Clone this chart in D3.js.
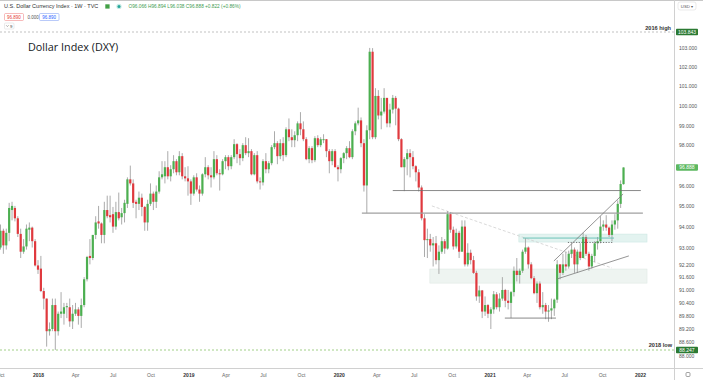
<!DOCTYPE html>
<html><head><meta charset="utf-8">
<script src="https://cdn.jsdelivr.net/npm/d3@7"></script>
<style>html,body{margin:0;padding:0;background:#fff;} svg{display:block;}</style>
</head><body>
<svg id="chart" width="703" height="380"></svg>
<script>
// ---------------- DATA ----------------
const firstWeek = "2017-10-02"; // weekly candles, Monday starts
const opens = [
 93.0,93.8,93.1,93.7,94.8,94.9,94.4,93.65,92.8,93.05,93.85,93.95,93.3,
 92.15,92.0,90.95,90.6,89.1,89.2,90.3,89.1,89.9,89.9,90.2,90.2,89.55,89.9,90.1,89.8,90.3,91.5,92.6,92.5,93.6,94.25,94.15,93.6,94.8,94.55,94.6,94.0,94.7,94.45,94.65,95.1,96.3,96.1,95.2,95.1,95.4,94.95,94.2,95.1,95.6,95.2,95.7,96.4,96.45,96.9,96.45,96.8,97.2,96.65,97.45,96.45,96.35,
 96.2,95.6,96.4,95.8,95.6,96.55,96.9,96.5,96.4,97.3,96.6,96.55,97.2,97.4,96.95,97.4,98.05,97.55,97.35,98.0,97.6,97.7,96.55,97.5,96.2,96.15,97.2,96.8,97.1,97.9,98.1,97.45,98.1,97.5,98.8,98.4,98.25,98.5,99.1,98.8,98.3,97.3,97.85,97.25,98.35,98.0,98.25,98.3,97.7,97.2,97.7,96.9,
 96.8,97.35,97.6,97.85,97.4,98.7,99.1,99.25,98.1,96.0,98.75,102.8,98.4,100.5,99.5,99.7,100.4,99.1,99.8,100.4,99.85,98.3,96.9,97.3,97.6,97.4,96.95,96.65,95.9,94.4,93.35,93.4,93.1,93.2,92.4,92.8,93.3,92.95,94.6,93.85,93.05,93.7,92.8,94.0,92.2,92.75,92.4,91.8,90.7,90.98,90.0,90.3,
 89.9,90.1,90.8,90.2,90.6,91.0,90.5,90.4,90.9,91.9,91.7,91.9,92.8,93.0,92.2,91.55,90.85,91.3,90.2,90.3,90.0,90.05,90.15,90.55,92.2,91.8,92.2,92.1,92.7,92.9,92.2,92.8,92.5,93.5,92.7,92.1,92.6,93.2,93.3,94.0,94.1,93.95,93.6,94.1,94.3,95.1,96.066
];
const highs = [
 94.1,93.9,93.9,95.15,95.2,95.0,94.5,93.9,93.4,94.1,94.2,94.0,93.4,
 92.4,92.6,91.1,90.6,89.5,90.6,90.6,90.0,90.9,90.4,90.4,90.6,90.3,90.4,90.2,90.6,91.6,92.6,93.4,93.6,94.5,95.0,94.2,95.2,95.5,95.5,94.95,95.2,95.65,94.9,95.3,96.4,96.98,96.3,95.3,95.7,95.6,95.0,95.3,96.1,95.7,96.0,96.7,97.2,97.2,97.7,97.0,97.5,97.3,97.7,97.6,96.9,96.95,
 96.3,96.5,96.6,96.0,96.6,97.4,97.0,96.9,97.7,97.5,96.8,97.3,97.5,97.5,97.5,98.3,98.1,97.8,98.1,98.4,98.35,97.8,97.6,97.7,96.4,97.3,97.6,97.2,98.0,98.7,98.2,98.3,98.4,98.9,99.35,98.8,98.7,99.2,99.67,99.2,98.4,97.95,97.95,98.45,98.5,98.4,98.55,98.3,97.8,97.8,97.8,97.0,
 97.4,97.65,97.95,98.2,98.8,99.2,99.9,99.4,98.3,99.0,103.0,102.99,100.9,100.8,100.4,100.9,100.4,100.1,100.55,100.5,99.9,98.35,97.4,97.8,97.8,97.7,97.0,96.8,96.0,94.6,93.9,93.65,93.5,93.55,93.1,93.5,93.4,94.75,94.7,94.0,93.9,93.8,94.3,94.3,93.2,92.9,92.6,91.9,91.2,91.0,90.7,90.35,
 90.2,90.95,90.9,90.85,91.6,91.05,91.0,90.95,92.1,92.5,92.0,92.9,93.44,93.05,92.3,91.65,91.4,91.4,90.9,90.4,90.3,90.6,90.6,92.4,92.2,92.7,92.8,92.85,93.2,93.0,92.9,93.2,93.7,93.6,92.8,92.7,93.3,93.5,94.5,94.3,94.55,94.0,94.3,94.6,95.27,96.25,96.894
];
const lows = [
 92.9,92.7,92.9,93.3,94.3,94.25,93.5,92.5,92.7,92.9,93.3,93.0,92.1,
 91.75,90.9,90.1,88.4,88.9,89.1,88.25,88.9,89.7,89.4,89.7,89.3,89.2,89.8,89.4,89.25,90.2,91.4,92.2,92.4,93.4,93.9,93.2,93.2,94.4,94.2,93.7,93.85,94.3,94.1,94.2,94.9,96.0,94.9,94.4,94.8,94.5,93.8,93.8,95.0,94.8,94.9,95.6,96.3,96.1,96.3,96.2,96.6,96.5,96.5,96.3,96.2,95.5,
 95.05,95.5,95.7,95.2,95.5,96.4,96.3,95.9,96.3,96.5,95.75,96.5,96.8,96.75,96.8,97.3,97.1,97.0,97.2,97.5,97.4,96.5,96.5,96.1,95.8,96.0,96.6,96.6,97.0,97.8,97.05,97.3,97.2,97.4,98.2,97.9,97.9,98.2,98.5,98.2,97.25,97.1,97.1,97.15,97.9,97.9,98.1,97.4,96.6,97.0,96.9,96.2,
 96.6,97.1,97.3,97.35,97.3,98.5,99.0,97.9,95.7,94.65,98.3,98.3,98.3,99.3,98.8,99.6,98.9,98.9,99.6,99.0,98.2,96.9,95.72,96.5,96.4,96.8,96.2,95.7,94.3,92.55,92.5,92.8,92.1,92.2,91.75,92.7,92.7,92.9,93.7,92.9,92.95,92.5,92.8,92.1,92.1,92.2,91.75,90.5,90.4,89.7,89.8,89.7,
 89.2,89.9,90.1,90.0,90.5,90.2,90.1,89.7,90.7,91.4,91.3,91.8,92.7,92.0,91.5,90.8,90.4,90.1,89.9,89.65,89.53,89.65,89.8,90.4,91.5,91.7,91.9,92.0,92.5,91.8,91.8,92.4,92.5,92.6,91.9,92.0,92.3,92.9,93.2,93.8,93.8,93.5,93.3,93.85,93.9,94.9,96.038
];
const closes = [
 93.8,93.1,93.7,94.9,95.0,94.4,93.65,92.8,93.05,93.9,93.95,93.3,92.15,
 91.95,90.95,90.6,89.1,89.2,90.3,89.1,89.9,90.0,90.2,90.25,89.55,89.9,90.1,89.8,90.3,91.5,92.55,92.5,93.6,94.2,94.15,93.6,94.8,94.5,94.45,94.0,94.7,94.4,94.65,95.15,96.3,96.1,95.15,95.1,95.4,94.95,94.2,95.1,95.6,95.2,95.7,96.4,96.55,96.9,96.45,96.8,97.2,96.65,97.45,96.45,96.35,96.2,
 95.6,96.4,95.8,95.6,96.55,96.9,96.5,96.4,97.3,96.6,96.55,97.2,97.4,96.95,97.4,98.05,97.55,97.35,98.0,97.6,97.7,96.55,97.5,96.2,96.15,97.2,96.8,97.1,97.9,98.1,97.45,98.1,97.5,98.8,98.4,98.25,98.5,99.1,98.8,98.3,97.3,97.85,97.25,98.35,98.0,98.3,98.3,97.7,97.2,97.7,96.9,96.8,
 97.35,97.6,97.85,97.4,98.7,99.1,99.25,98.1,96.0,98.75,102.8,98.4,100.5,99.5,99.7,100.4,99.1,99.8,100.4,99.85,98.3,96.9,97.3,97.6,97.4,96.95,96.65,95.9,94.4,93.35,93.4,93.1,93.2,92.4,92.8,93.3,92.95,94.6,93.85,93.05,93.7,92.8,94.0,92.2,92.75,92.4,91.8,90.7,90.98,90.0,90.3,89.9,
 90.1,90.8,90.2,90.6,91.0,90.5,90.4,90.9,91.9,91.7,91.9,92.8,93.0,92.2,91.55,90.85,91.3,90.2,90.3,90.0,90.05,90.15,90.55,92.2,91.8,92.2,92.1,92.7,92.9,92.2,92.8,92.5,93.5,92.7,92.1,92.6,93.2,93.3,94.0,94.1,93.95,93.6,94.1,94.3,95.1,96.07,96.888
];

// visible price-scale labels (97.000 and 104.000 sit under the price tags)
const priceTicks = [103,102,101,100,99,98,96,95,94,93,92.2,91.6,91.0,90.4,89.8,89.2,88.6,88.0];
const timeTickDates = ["2017-10-01","2018-01-01","2018-04-01","2018-07-01","2018-10-01","2019-01-01","2019-04-01","2019-07-01","2019-10-01","2020-01-01","2020-04-01","2020-07-01","2020-10-01","2021-01-01","2021-04-01","2021-07-01","2021-10-01","2022-01-01"];
const timeTickLabels = ["Oct","2018","Apr","Jul","Oct","2019","Apr","Jul","Oct","2020","Apr","Jul","Oct","2021","Apr","Jul","Oct","2022"];

const high2016 = 103.843, low2018 = 88.247, lastPrice = 96.888;
const headerOHLC = "O96.066 H96.894 L96.038 C96.888 +0.822 (+0.86%)";

// drawn annotations (dates / prices)
const levelLines = [
  {price: 95.75, from: "2020-05-11", to: "2022-01-03"},
  {price: 94.65, from: "2020-02-26", to: "2022-01-08"},
  {price: 89.70, from: "2021-02-07", to: "2021-06-11"}
];
const zones = [
  {lo: 93.26, hi: 93.64, from: "2021-03-13", to: "2022-01-18"},
  {lo: 91.32, hi: 91.98, from: "2020-08-09", to: "2022-01-18"}
];
const tealLevel = {price: 93.45, from: "2021-03-23", to: "2021-10-30"};
const dottedLevel = {price: 93.24, from: "2021-07-10", to: "2021-10-27"};
const trendLines = [
  {d1: "2021-06-06", p1: 92.36, d2: "2021-11-21", p2: 95.58},
  {d1: "2021-06-13", p1: 91.51, d2: "2021-12-05", p2: 92.60}
];
const fallingLine = {d1: "2020-08-14", p1: 95.0, d2: "2021-10-25", p2: 92.03};

// ---------------- CHART ----------------
const svg = d3.select("#chart");
const W = 703, H = 380;
const plotRight = 674.5, plotBottom = 368.5;
const pd = s => new Date(s + "T00:00:00Z");
const hf = "Liberation Sans, Arial, sans-serif";

const x = d3.scaleUtc().domain([pd("2018-01-01"), pd("2022-01-01")]).range([38, 640]);
const y = d3.scaleLog().domain([low2018, high2016]).range([350, 32]);

const start = pd(firstWeek);
const candles = closes.map((c, i) => ({d: d3.utcDay.offset(start, 7 * i), o: opens[i], h: highs[i], l: lows[i], c}));

svg.append("rect").attr("width", W).attr("height", H).attr("fill", "#fff");
svg.append("defs").append("clipPath").attr("id", "plot")
  .append("rect").attr("x", 0).attr("y", 0).attr("width", plotRight).attr("height", plotBottom);

const plot = svg.append("g").attr("clip-path", "url(#plot)");

// zones
plot.selectAll("rect.zone").data(zones).join("rect").attr("class", "zone")
  .attr("x", d => x(pd(d.from))).attr("width", d => x(pd(d.to)) - x(pd(d.from)))
  .attr("y", d => y(d.hi)).attr("height", d => y(d.lo) - y(d.hi))
  .attr("fill", (d, i) => i === 0 ? "#e3f3f0" : "#eef4f1")
  .attr("stroke", (d, i) => i === 0 ? "#cde8e3" : "#dfe9e4").attr("stroke-width", 0.6);

// reference dashed lines
plot.append("line").attr("x1", 0).attr("x2", plotRight).attr("y1", y(high2016)).attr("y2", y(high2016))
  .attr("stroke", "#a8a8a8").attr("stroke-width", 0.7).attr("stroke-dasharray", "2,2");
plot.append("line").attr("x1", 0).attr("x2", plotRight).attr("y1", y(low2018)).attr("y2", y(low2018))
  .attr("stroke", "#8cc36a").attr("stroke-width", 0.8).attr("stroke-dasharray", "2,2");

// falling dashed trendline
plot.append("line")
  .attr("x1", x(pd(fallingLine.d1))).attr("y1", y(fallingLine.p1))
  .attr("x2", x(pd(fallingLine.d2))).attr("y2", y(fallingLine.p2))
  .attr("stroke", "#cfcfcf").attr("stroke-width", 0.8).attr("stroke-dasharray", "3,2");

// candles
const cg = plot.append("g");
cg.selectAll("line.wick").data(candles).join("line").attr("class", "wick")
  .attr("x1", d => x(d.d)).attr("x2", d => x(d.d))
  .attr("y1", d => y(d.h)).attr("y2", d => y(d.l))
  .attr("stroke", "#a2a2a2").attr("stroke-width", 0.9);
cg.selectAll("rect.body").data(candles).join("rect").attr("class", "body")
  .attr("x", d => x(d.d) - 1.1).attr("width", 2.2)
  .attr("y", d => y(Math.max(d.o, d.c)))
  .attr("height", d => Math.max(0.8, Math.abs(y(d.o) - y(d.c))))
  .attr("fill", d => d.c >= d.o ? "#4caf50" : "#e0393e");

// horizontal level lines
plot.selectAll("line.level").data(levelLines).join("line").attr("class", "level")
  .attr("x1", d => x(pd(d.from))).attr("x2", d => x(pd(d.to)))
  .attr("y1", d => y(d.price)).attr("y2", d => y(d.price))
  .attr("stroke", (d, i) => i === 1 ? "#a0a0a0" : "#6b6b6b")
  .attr("stroke-width", (d, i) => i === 1 ? 1.4 : 0.8);

plot.append("line").attr("x1", x(pd(tealLevel.from))).attr("x2", x(pd(tealLevel.to)))
  .attr("y1", y(tealLevel.price)).attr("y2", y(tealLevel.price))
  .attr("stroke", "#5dbdb2").attr("stroke-width", 0.9);
plot.append("line").attr("x1", x(pd(dottedLevel.from))).attr("x2", x(pd(dottedLevel.to)))
  .attr("y1", y(dottedLevel.price)).attr("y2", y(dottedLevel.price))
  .attr("stroke", "#555").attr("stroke-width", 0.8).attr("stroke-dasharray", "1.2,1.5");

plot.selectAll("line.trend").data(trendLines).join("line").attr("class", "trend")
  .attr("x1", d => x(pd(d.d1))).attr("y1", d => y(d.p1))
  .attr("x2", d => x(pd(d.d2))).attr("y2", d => y(d.p2))
  .attr("stroke", "#7a7a7a").attr("stroke-width", 0.8);

// labels on chart
svg.append("text").attr("x", 671).attr("y", y(high2016) - 2.5).attr("text-anchor", "end")
  .attr("font-family", hf).attr("font-size", 5.6).attr("font-weight", "bold")
  .attr("fill", "#333").text("2016 high");
svg.append("text").attr("x", 672).attr("y", y(low2018) - 2.6).attr("text-anchor", "end")
  .attr("font-family", hf).attr("font-size", 5.6).attr("font-weight", "bold")
  .attr("fill", "#333").text("2018 low");

svg.append("text").attr("x", 28).attr("y", 50.5)
  .attr("font-family", "Open Sans, sans-serif").attr("font-size", 10.8).attr("fill", "#131722")
  .text("Dollar Index (DXY)");

// borders
svg.append("line").attr("x1", 0).attr("x2", W).attr("y1", 0.5).attr("y2", 0.5).attr("stroke", "#c8c8c8").attr("stroke-width", 1);
svg.append("line").attr("x1", plotRight).attr("x2", plotRight).attr("y1", 0).attr("y2", H).attr("stroke", "#d0d0d0").attr("stroke-width", 1);
svg.append("line").attr("x1", 0).attr("x2", W).attr("y1", plotBottom).attr("y2", plotBottom).attr("stroke", "#d0d0d0").attr("stroke-width", 1);

// y axis
const yAxis = d3.axisRight(y).tickValues(priceTicks).tickFormat(d3.format(".3f")).tickSize(0).tickPadding(0);
const yg = svg.append("g").attr("transform", "translate(679,0)").call(yAxis);
yg.select(".domain").remove();
yg.selectAll("text").attr("font-family", hf).attr("font-size", 5).attr("fill", "#555").attr("dy", "0.35em");

// x axis
const xAxis = d3.axisBottom(x).tickValues(timeTickDates.map(pd)).tickFormat((d, i) => timeTickLabels[i]).tickSize(0).tickPadding(0);
const xg = svg.append("g").attr("transform", "translate(0,373)").call(xAxis);
xg.select(".domain").remove();
xg.selectAll("text").attr("font-family", hf).attr("font-size", 5)
  .attr("dy", "0.71em")
  .attr("fill", (d, i) => /^\d+$/.test(timeTickLabels[i]) ? "#333" : "#666")
  .attr("font-weight", (d, i) => /^\d+$/.test(timeTickLabels[i]) ? "bold" : "normal");

// price tags
function tag(price, fill) {
  const g = svg.append("g");
  g.append("rect").attr("x", 676).attr("y", y(price) - 3.2).attr("width", 22).attr("height", 6.4).attr("rx", 0.8).attr("fill", fill);
  g.append("text").attr("x", 687).attr("y", y(price)).attr("dy", "0.35em").attr("text-anchor", "middle")
    .attr("font-family", hf).attr("font-size", 5).attr("fill", "#fff")
    .text(d3.format(".3f")(price));
}
tag(high2016, "#2b7a33");
tag(lastPrice, "#5cb860");
tag(low2018, "#2b7a33");

// header
svg.append("text").attr("x", 4).attr("y", 8.4).attr("font-family", hf).attr("font-size", 5.5).attr("fill", "#333")
  .text("U.S. Dollar Currency Index · 1W · TVC");
svg.append("rect").attr("x", 105.3).attr("y", 4.3).attr("width", 4.3).attr("height", 4.3).attr("fill", "#43a047");
svg.append("circle").attr("cx", 119).attr("cy", 6.4).attr("r", 2.6).attr("fill", "#c8ebe6");
svg.append("circle").attr("cx", 119).attr("cy", 6.4).attr("r", 1.5).attr("fill", "#26a69a");
svg.append("text").attr("x", 128.5).attr("y", 8.3).attr("font-family", hf).attr("font-size", 4.75).attr("fill", "#3f9d52")
  .text(headerOHLC);

svg.append("rect").attr("x", 4.5).attr("y", 13.5).attr("width", 19).attr("height", 7).attr("rx", 1)
  .attr("fill", "#fff").attr("stroke", "#f28b8b").attr("stroke-width", 0.6);
svg.append("text").attr("x", 14).attr("y", 18.6).attr("text-anchor", "middle").attr("font-family", hf).attr("font-size", 4.5).attr("fill", "#e53935").text("96.890");
svg.append("text").attr("x", 27.5).attr("y", 18.6).attr("font-family", hf).attr("font-size", 4.5).attr("fill", "#555").text("0.000");
svg.append("rect").attr("x", 39.5).attr("y", 13.5).attr("width", 19.5).attr("height", 7).attr("rx", 1)
  .attr("fill", "#fff").attr("stroke", "#8aa6f5").attr("stroke-width", 0.6);
svg.append("text").attr("x", 49.2).attr("y", 18.6).attr("text-anchor", "middle").attr("font-family", hf).attr("font-size", 4.5).attr("fill", "#2962ff").text("96.890");

svg.append("rect").attr("x", 4.5).attr("y", 23).attr("width", 9.5).attr("height", 6).attr("rx", 1)
  .attr("fill", "#fff").attr("stroke", "#d5d5d5").attr("stroke-width", 0.5);
svg.append("path").attr("d", "M6.2,25.3 L7.4,26.5 L8.6,25.3").attr("fill", "none").attr("stroke", "#555").attr("stroke-width", 0.5);
svg.append("text").attr("x", 10).attr("y", 27.7).attr("font-family", hf).attr("font-size", 4.3).attr("fill", "#444").text("9");

// currency selector
svg.append("rect").attr("x", 678).attr("y", 2).attr("width", 18).attr("height", 8).attr("rx", 2)
  .attr("fill", "#fff").attr("stroke", "#d5d5d5").attr("stroke-width", 0.5);
svg.append("text").attr("x", 687).attr("y", 7.6).attr("text-anchor", "middle").attr("font-family", hf).attr("font-size", 4.3).attr("fill", "#555").text("USD ▾");

// bottom-right icon
svg.append("rect").attr("x", 686).attr("y", 372.5).attr("width", 4).attr("height", 4).attr("rx", 1)
  .attr("fill", "none").attr("stroke", "#666").attr("stroke-width", 0.6);
</script>
</body></html>
